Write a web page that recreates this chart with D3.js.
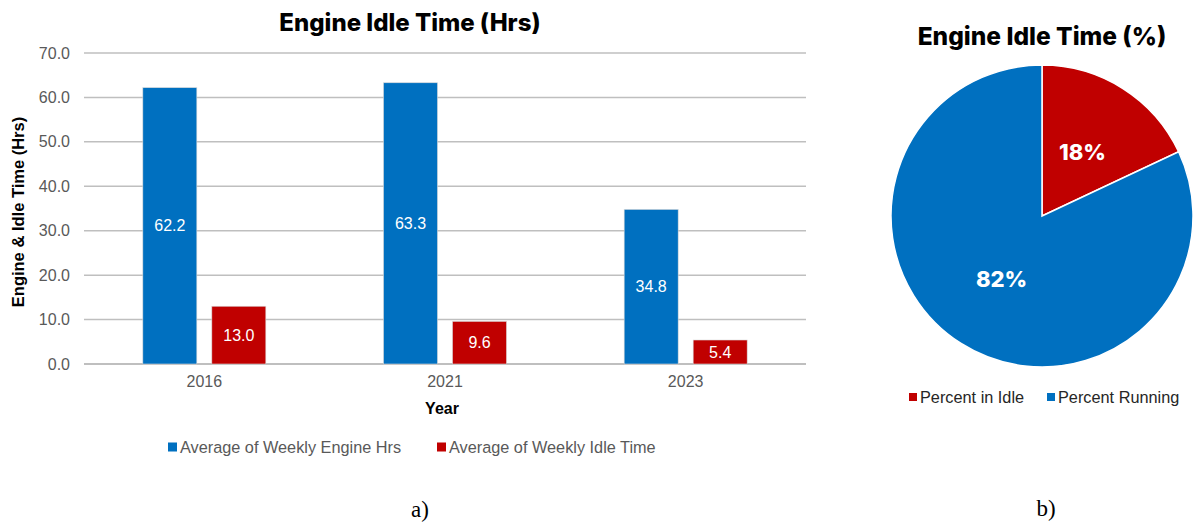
<!DOCTYPE html>
<html>
<head>
	<title>Engine Idle Time</title>
	<meta charset="utf-8">
	<script src="https://cdnjs.cloudflare.com/ajax/libs/d3/7.8.5/d3.min.js"></script>
	<style>
		body { margin: 0; background: #fff; }
		text { font-family: "Liberation Sans", Arial, sans-serif; }
		.ttl { font-family: Inter, "Open Sans", sans-serif; font-weight: 800; }
		.cap { font-family: "Liberation Serif", "Times New Roman", serif; }
	</style>
</head>
<body>
	<script type="text/javascript">

		// data
		let years = ['2016', '2021', '2023'];
		let engineHrs = [62.2, 63.3, 34.8];
		let idleHrs = [13.0, 9.6, 5.4];
		let seriesNames = ['Average of Weekly Engine Hrs', 'Average of Weekly Idle Time'];
		let yTicks = [0, 10, 20, 30, 40, 50, 60, 70];
		let pieLabels = ['Percent in Idle', 'Percent Running'];
		let pieValues = [18, 82];

		let blue = '#0070c0', red = '#c00000', grey = '#595959';

		let svg = d3.select('body').append('svg')
			.attr('width', 1194)
			.attr('height', 527);

		// ---- bar chart (a)
		let x = d3.scaleBand().domain(years).range([84, 806]);
		let y = d3.scaleLinear().domain([0, 70]).range([364, 53]);

		svg.append('g').selectAll('line').data(yTicks).enter().append('line')
			.attr('x1', 84).attr('x2', 806)
			.attr('y1', d => y(d)).attr('y2', d => y(d))
			.attr('stroke', '#bfbfbf')
			.attr('stroke-width', d => d === 0 ? 2 : 1.5);

		svg.append('g').selectAll('text').data(yTicks).enter().append('text')
			.attr('x', 70).attr('y', d => y(d))
			.attr('dy', '0.35em')
			.attr('text-anchor', 'end')
			.attr('font-size', 16)
			.attr('fill', grey)
			.text(d => d.toFixed(1));

		let bw = 54;

		let rows = [];
		years.forEach((yr, i) => {
			rows.push({yr: yr, s: 0, v: engineHrs[i]});
			rows.push({yr: yr, s: 1, v: idleHrs[i]});
		});

		function barX(d) {
			let c = x(d.yr) + x.bandwidth() / 2;
			return d.s === 0 ? c - 7.5 - bw : c + 7.5;
		}

		svg.append('g').selectAll('rect').data(rows).enter().append('rect')
			.attr('x', barX)
			.attr('y', d => y(d.v))
			.attr('width', bw)
			.attr('height', d => y(0) - y(d.v))
			.attr('fill', d => d.s === 0 ? blue : red)
			.attr('stroke', '#d9d9d9')
			.attr('stroke-width', 0.6);

		svg.append('g').selectAll('text').data(rows).enter().append('text')
			.attr('x', d => barX(d) + bw / 2)
			.attr('y', d => (y(d.v) + y(0)) / 2)
			.attr('dy', '0.35em')
			.attr('text-anchor', 'middle')
			.attr('font-size', 16)
			.attr('fill', '#fff')
			.text(d => d.v.toFixed(1));

		svg.append('g').selectAll('text').data(years).enter().append('text')
			.attr('x', d => x(d) + x.bandwidth() / 2)
			.attr('y', 387)
			.attr('text-anchor', 'middle')
			.attr('font-size', 16)
			.attr('fill', grey)
			.text(d => d);

		svg.append('text')
			.attr('class', 'ttl')
			.attr('x', 410).attr('y', 31)
			.attr('text-anchor', 'middle')
			.attr('font-size', 24)
			.text('Engine Idle Time (Hrs)');

		svg.append('text')
			.attr('x', 442).attr('y', 414)
			.attr('text-anchor', 'middle')
			.attr('font-size', 16)
			.attr('font-weight', 'bold')
			.text('Year');

		svg.append('text')
			.attr('transform', 'translate(24,212) rotate(-90)')
			.attr('text-anchor', 'middle')
			.attr('font-size', 16.5)
			.attr('font-weight', 'bold')
			.text('Engine & Idle Time (Hrs)');

		let legX = [168, 437];
		let leg = svg.append('g').selectAll('g').data(seriesNames).enter().append('g')
			.attr('transform', (d, i) => 'translate(' + legX[i] + ',447)');
		leg.append('rect')
			.attr('x', 0).attr('y', -4.5).attr('width', 9).attr('height', 9)
			.attr('fill', (d, i) => i === 0 ? blue : red);
		leg.append('text')
			.attr('x', 12).attr('dy', '0.35em')
			.attr('font-size', 16.3)
			.attr('fill', grey)
			.text(d => d);

		svg.append('text')
			.attr('class', 'cap')
			.attr('x', 420).attr('y', 517)
			.attr('text-anchor', 'middle')
			.attr('font-size', 23)
			.text('a)');

		// ---- pie chart (b)
		let cx = 1042, cy = 216, r = 151;
		let pie = d3.pie().sort(null).value(d => d);
		let arc = d3.arc().innerRadius(0).outerRadius(r);
		let labelArc = d3.arc().innerRadius(r * 0.5).outerRadius(r * 0.5);
		let arcs = pie(pieValues);

		let pg = svg.append('g').attr('transform', 'translate(' + cx + ',' + cy + ')');
		pg.selectAll('path').data(arcs).enter().append('path')
			.attr('d', arc)
			.attr('fill', (d, i) => i === 0 ? red : blue)
			.attr('stroke', '#fff')
			.attr('stroke-width', 1.5);

		pg.selectAll('text').data(arcs).enter().append('text')
			.attr('class', 'ttl')
			.attr('transform', d => 'translate(' + labelArc.centroid(d) + ')')
			.attr('dy', '0.35em')
			.attr('text-anchor', 'middle')
			.attr('font-size', 22)
			.attr('fill', '#fff')
			.text(d => d.data + '%');

		svg.append('text')
			.attr('class', 'ttl')
			.attr('x', 1042).attr('y', 45)
			.attr('text-anchor', 'middle')
			.attr('font-size', 24.5)
			.text('Engine Idle Time (%)');

		let pLegX = [909, 1047];
		let pleg = svg.append('g').selectAll('g').data(pieLabels).enter().append('g')
			.attr('transform', (d, i) => 'translate(' + pLegX[i] + ',397)');
		pleg.append('rect')
			.attr('x', 0).attr('y', -4).attr('width', 8).attr('height', 8)
			.attr('fill', (d, i) => i === 0 ? red : blue);
		pleg.append('text')
			.attr('x', 11).attr('dy', '0.35em')
			.attr('font-size', 16.3)
			.attr('fill', '#262626')
			.text(d => d);

		svg.append('text')
			.attr('class', 'cap')
			.attr('x', 1046).attr('y', 516)
			.attr('text-anchor', 'middle')
			.attr('font-size', 23)
			.text('b)');

	</script>
</body>
</html>
